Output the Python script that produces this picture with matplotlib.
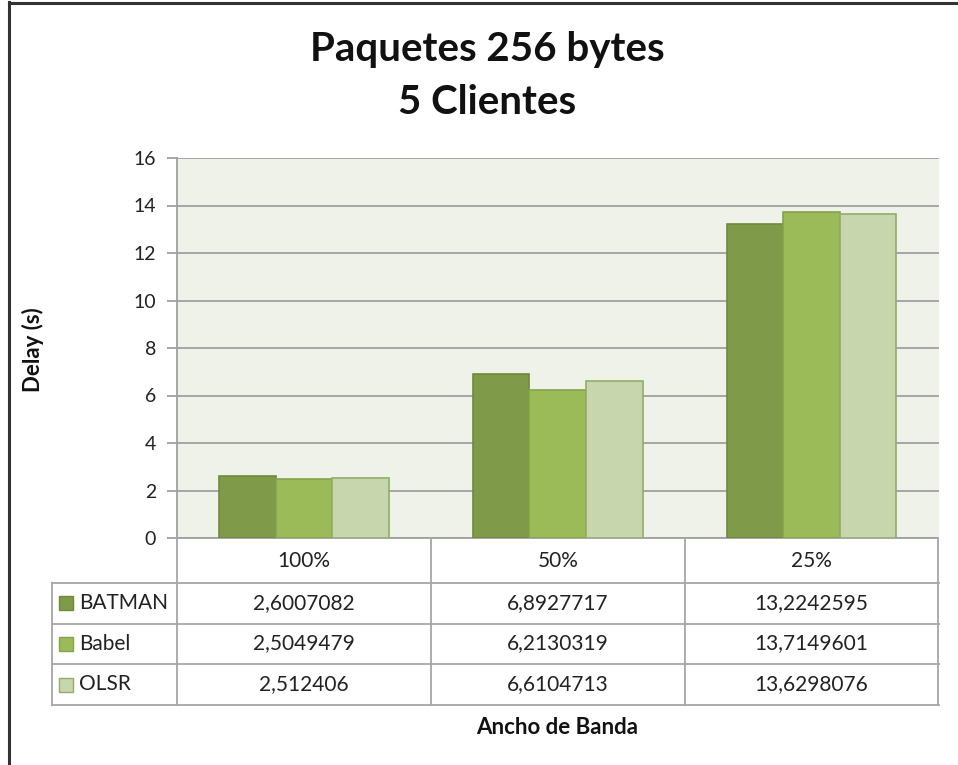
import matplotlib
matplotlib.use("Agg")
import matplotlib.pyplot as plt
from matplotlib.lines import Line2D
from matplotlib.patches import Rectangle
import matplotlib.transforms as mtransforms

plt.rcParams['font.family'] = ['Lato', 'DejaVu Sans']

categories = ['100%', '50%', '25%']
series_names = ['BATMAN', 'Babel', 'OLSR']
batman = [2.6007082, 6.8927717, 13.2242595]
babel = [2.5049479, 6.2130319, 13.7149601]
olsr = [2.512406, 6.6104713, 13.6298076]
table_text = [
    ['2,6007082', '6,8927717', '13,2242595'],
    ['2,5049479', '6,2130319', '13,7149601'],
    ['2,512406', '6,6104713', '13,6298076'],
]
y_ticks = [0, 2, 4, 6, 8, 10, 12, 14, 16]
title_lines = ['Paquetes 256 bytes', '5 Clientes']
y_label = 'Delay (s)'
x_label = 'Ancho de Banda'

face_colors = ['#7F9A48', '#9BBB59', '#C7D6AD']
edge_colors = ['#6F8A3C', '#84A34A', '#93AC6A']

W, H = 958, 765
fig = plt.figure(figsize=(W / 100, H / 100), dpi=100)

def fx(px):
    return px / W

def fy(py):
    return 1 - py / H

# outer border
fig.add_artist(Line2D([fx(8.5), fx(8.5)], [fy(2), fy(765)], color='#333333', lw=2.2))
fig.add_artist(Line2D([fx(8.5), fx(958)], [fy(2.5), fy(2.5)], color='#333333', lw=2.2))

L, R, T, B = 177, 938.5, 158, 538
ax = fig.add_axes([fx(L), fy(B), fx(R) - fx(L), fy(T) - fy(B)])
ax.set_facecolor('#EFF2E8')

series = [batman, babel, olsr]
bw = 0.223
for i, vals in enumerate(series):
    xs = [j + (i - 1) * bw for j in range(len(categories))]
    ax.bar(xs, vals, width=bw, color=face_colors[i], edgecolor=edge_colors[i],
           linewidth=1.2, zorder=3)

ax.set_xlim(-0.5, len(categories) - 0.5)
ax.set_ylim(0, 16)
ax.set_yticks(y_ticks)
ax.set_yticklabels([str(t) for t in y_ticks], fontsize=14, color='#222222')
ax.set_xticks([])
ax.yaxis.grid(True, color='#A0A0A0', lw=1.3, zorder=1)
ax.set_axisbelow(True)
for s in ['top', 'right']:
    ax.spines[s].set_visible(False)
for s in ['left', 'bottom']:
    ax.spines[s].set_color('#A0A0A0')
    ax.spines[s].set_linewidth(1.3)
ax.tick_params(axis='y', length=7, width=1.3, color='#A0A0A0', pad=8)

# data table
tc = '#A6A6A6'
trans = mtransforms.blended_transform_factory(ax.transData, fig.transFigure)
row_lines = [583, 623.5, 664, 705]
col_edges = [-0.5 + k for k in range(len(categories) + 1)]
for xe in col_edges:
    fig.add_artist(Line2D([xe, xe], [fy(B), fy(705)], color=tc, lw=1.3, transform=trans))
fig.add_artist(Line2D([fx(52), fx(52)], [fy(583), fy(705)], color=tc, lw=1.3))
for yl in row_lines:
    fig.add_artist(Line2D([fx(52), fx(R)], [fy(yl), fy(yl)], color=tc, lw=1.3))

fs_tab = 15
for j, c in enumerate(categories):
    fig.text(j, fy(561), c, transform=trans, ha='center', va='center', fontsize=fs_tab, color='#222222')

row_centers = [603, 643.5, 684.5]
for i, name in enumerate(series_names):
    yc = row_centers[i]
    fig.add_artist(Rectangle((fx(59), fy(yc + 7)), fx(14), 14 / H,
                             facecolor=face_colors[i], edgecolor=edge_colors[i], lw=1))
    fig.text(fx(79), fy(yc), name, ha='left', va='center', fontsize=fs_tab, color='#222222')
    for j in range(len(categories)):
        fig.text(j, fy(yc), table_text[i][j], transform=trans, ha='center', va='center',
                 fontsize=fs_tab, color='#222222')

fig.text(fx(487), fy(50), title_lines[0], ha='center', va='center', fontsize=29, fontweight='bold',
         color='#111111')
fig.text(fx(487), fy(103), title_lines[1], ha='center', va='center', fontsize=29, fontweight='bold',
         color='#111111')
fig.text(fx(33), fy(350), y_label, ha='center', va='center', rotation=90, fontsize=16,
         fontweight='bold', color='#111111')
fig.text(fx(557), fy(727), x_label, ha='center', va='center', fontsize=16,
         fontweight='bold', color='#111111')

fig.savefig('out.png', dpi=100)
